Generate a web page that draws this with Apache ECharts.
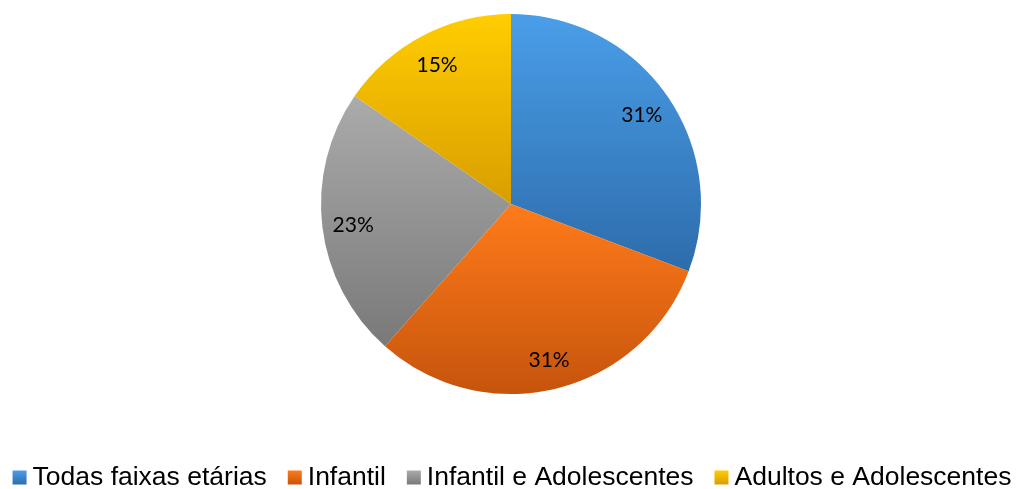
<!DOCTYPE html>
<html>
<head>
<meta charset="utf-8">
<script src="https://cdn.jsdelivr.net/npm/echarts@6/dist/echarts.min.js"></script>
<style>
  html, body { margin: 0; padding: 0; background: #fff; }
  #chart { width: 1024px; height: 489px; }
</style>
</head>
<body>
<div id="chart"></div>
<script>
// Distribuição por faixa etária
const categories = ['Todas faixas etárias', 'Infantil', 'Infantil e Adolescentes', 'Adultos e Adolescentes'];
const values = [4, 4, 3, 2];
// top / bottom shade of each slice
const topColors = ['#4a9ee8', '#ff7b1a', '#ababab', '#ffcd00'];
const bottomColors = ['#2d6cab', '#c6540c', '#797979', '#d99e00'];

function grad(i) {
  return new echarts.graphic.LinearGradient(0, 0, 0, 1, [
    { offset: 0, color: topColors[i] },
    { offset: 1, color: bottomColors[i] }
  ]);
}

const pieData = categories.map((name, i) => ({
  name: name,
  value: values[i],
  itemStyle: { color: grad(i) }
}));

const labelData = categories.map((name, i) => ({ name: name, value: values[i] }));

const chart = echarts.init(document.getElementById('chart'), null, { renderer: 'canvas' });
chart.setOption({
  animation: false,
  backgroundColor: '#ffffff',
  legend: {
    data: categories,
    bottom: -7,
    left: 'center',
    itemWidth: 14,
    itemHeight: 14,
    itemGap: 21,
    icon: 'rect',
    textStyle: { fontFamily: 'Liberation Sans', fontSize: 26.5, color: '#000', padding: [0, 0, 0, 1] }
  },
  series: [
    {
      type: 'pie',
      center: [511, 204],
      radius: [0, 190],
      startAngle: 90,
      clockwise: true,
      silent: true,
      label: { show: false },
      labelLine: { show: false },
      itemStyle: { borderColor: '#ffffff', borderWidth: 0 },
      data: pieData
    },
    {
      // transparent ring used only to place the percentage labels
      type: 'pie',
      center: [511, 206],
      radius: [122, 190],
      startAngle: 90,
      clockwise: true,
      silent: true,
      percentPrecision: 0,
      legendHoverLink: false,
      itemStyle: { color: 'rgba(0,0,0,0)' },
      label: {
        show: true,
        position: 'inside',
        formatter: '{d}%',
        fontFamily: 'Lato',
        fontSize: 21,
        color: '#000'
      },
      labelLine: { show: false },
      data: labelData
    }
  ]
});
</script>
</body>
</html>
